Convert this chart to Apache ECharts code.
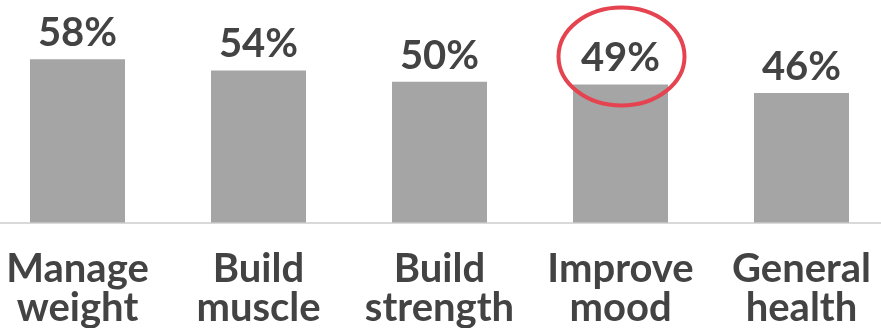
<!DOCTYPE html>
<html>
<head>
<meta charset="utf-8">
<script src="https://cdn.jsdelivr.net/npm/echarts@6/dist/echarts.min.js"></script>
<style>
html,body{margin:0;padding:0;background:#fff;overflow:hidden;}
#chart{width:905px;height:328px;margin-left:-13px;}
</style>
</head>
<body>
<div id="chart"></div>
<script>
const categories = ['Manage\nweight', 'Build\nmuscle', 'Build\nstrength', 'Improve\nmood', 'General\nhealth'];
const values = [58, 54, 50, 49, 46];
const highlightIndex = 3;

const chart = echarts.init(document.getElementById('chart'), null, {renderer: 'canvas'});
const option = {
  animation: false,
  backgroundColor: '#ffffff',
  grid: {left: 0, right: 0, top: 0, bottom: 103, containLabel: false},
  xAxis: {
    type: 'category',
    data: categories,
    axisLine: {show: true, lineStyle: {color: '#d9d9d9', width: 2}},
    axisTick: {show: false},
    axisLabel: {
      margin: 27,
      color: '#434343',
      fontFamily: 'Lato',
      fontWeight: 'bold',
      fontSize: 40,
      lineHeight: 39,
      interval: 0
    }
  },
  yAxis: {
    type: 'value',
    min: 0,
    max: 79,
    show: false,
    splitLine: {show: false}
  },
  series: [{
    type: 'bar',
    data: values,
    barWidth: 95,
    itemStyle: {color: '#a5a5a5'},
    label: {
      show: true,
      position: 'top',
      distance: 6,
      formatter: '{c}%',
      color: '#434343',
      fontFamily: 'Lato',
      fontWeight: 'bold',
      fontSize: 40
    }
  }]
};
chart.setOption(option);

const barTop = chart.convertToPixel({seriesIndex: 0}, [highlightIndex, values[highlightIndex]]);
chart.setOption({
  graphic: [{
    type: 'ellipse',
    shape: {cx: barTop[0] + 1, cy: barTop[1] - 28, rx: 63, ry: 49},
    style: {fill: 'none', stroke: '#e5434f', lineWidth: 4},
    z: 100
  }]
});
</script>
</body>
</html>
